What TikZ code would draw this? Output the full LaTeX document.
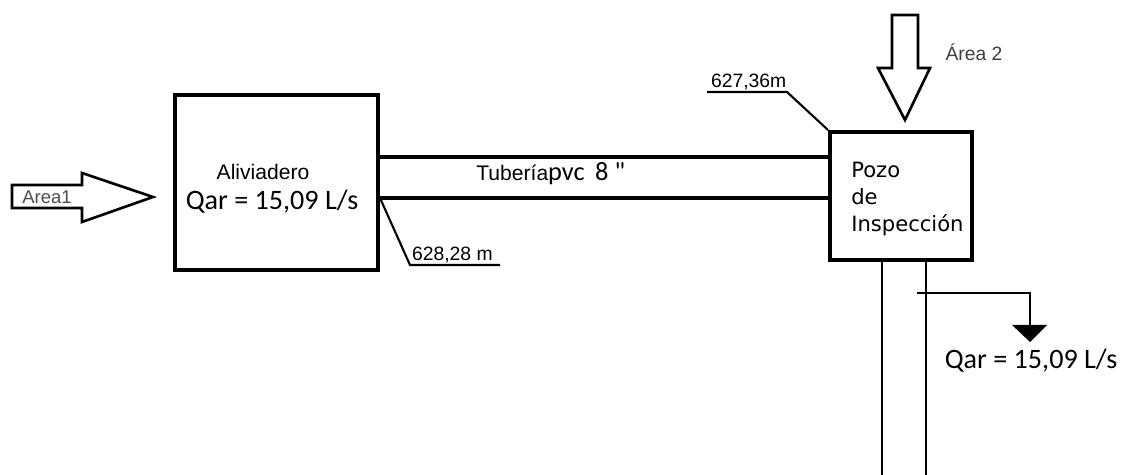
\documentclass[tikz,border=0pt]{standalone}
\usepackage{fontspec}
\setmainfont{Liberation Sans}
\newfontfamily\carlito{Carlito}
\newfontfamily\dejavu{DejaVu Sans}
\tikzset{
    caja/.style={draw, line width=2.3pt, inner sep=0pt},
    tubo/.style={line width=1.8pt},
    cota/.style={line width=1.2pt},
    flecha/.style={draw, line width=1.5pt, line join=miter},
    etiq/.style={font=\fontsize{11}{12}\selectfont, inner sep=1pt}
}
\begin{document}
\begin{tikzpicture}[x=0.02cm,y=-0.02cm]
    \useasboundingbox (0,0) rectangle (1126,475);
    % Aliviadero
    \node[caja, minimum width=4.06cm, minimum height=3.5cm] (aliv) at (276.5,182.5) {};
    \node[font=\fontsize{12}{13}\selectfont] (alivT) at (263,172) {Aliviadero};
    \node[font=\carlito\fontsize{16}{18}\selectfont] (alivQ) at (272,202) {Qar = 15,09 L/s};
    % Pozo de inspeccion
    \node[caja, minimum width=2.84cm, minimum height=2.56cm] (pozo) at (901,196) {};
    \node[font=\dejavu\fontsize{12}{15.5}\selectfont, align=left, anchor=west, inner sep=0pt] (pozoT) at (851,199) {Pozo\\de\\Inspección};
    % Tuberia
    \coordinate (tA) at (0,157);
    \coordinate (tB) at (0,198);
    \draw[tubo] (aliv.east |- tA) -- (pozo.west |- tA);
    \draw[tubo] (aliv.east |- tB) -- (pozo.west |- tB);
    \node[anchor=base west, inner sep=0pt] (tubT) at (476,181) {\fontsize{12}{13}\selectfont Tubería{\carlito\fontsize{15}{17}\selectfont pvc\hspace{6pt}8 "}};
    % Cotas
    \coordinate (c1) at (410,265);
    \coordinate (c2) at (500,265);
    \draw[cota] (aliv.east |- tB) -- (c1) -- (c2);
    \node[etiq, anchor=south west] (c1T) at (c1) {628,28 m};
    \coordinate (c3) at (707,92);
    \coordinate (c4) at (787,92);
    \draw[cota] (c3) -- (c4) -- (pozo.north west);
    \node[etiq, anchor=south west] (c3T) at (709,92) {627,36m};
    % Area 1
    \draw[flecha] (12,185) -- (82,185) -- (82,173) -- (153,197) -- (82,222) -- (82,208) -- (12,208) -- cycle;
    \node[font=\fontsize{10.5}{12}\selectfont, text=black!70] (a1T) at (47,197) {Area1};
    % Area 2
    \draw[flecha] (892,15) -- (918,15) -- (918,68) -- (930,68) -- (905,120) -- (878,68) -- (892,68) -- cycle;
    \node[font=\fontsize{11}{12}\selectfont, text=black!75] (a2T) at (974,52) {Área 2};
    % Salida
    \coordinate (s1) at (882,475);
    \coordinate (s2) at (926,475);
    \draw[line width=1.3pt] (pozo.south -| s1) -- (s1);
    \draw[line width=1.3pt] (pozo.south -| s2) -- (s2);
    \coordinate (q1) at (917,293);
    \coordinate (q2) at (1030,293);
    \coordinate (q3) at (1030,326);
    \draw[line width=1.4pt] (q1) -- (q2) -- (q3);
    \fill (1012,325) -- (1047,325) -- (1030,342) -- cycle;
    \node[font=\carlito\fontsize{16}{18}\selectfont] (salQ) at (1031,361) {Qar = 15,09 L/s};
\end{tikzpicture}
\end{document}
